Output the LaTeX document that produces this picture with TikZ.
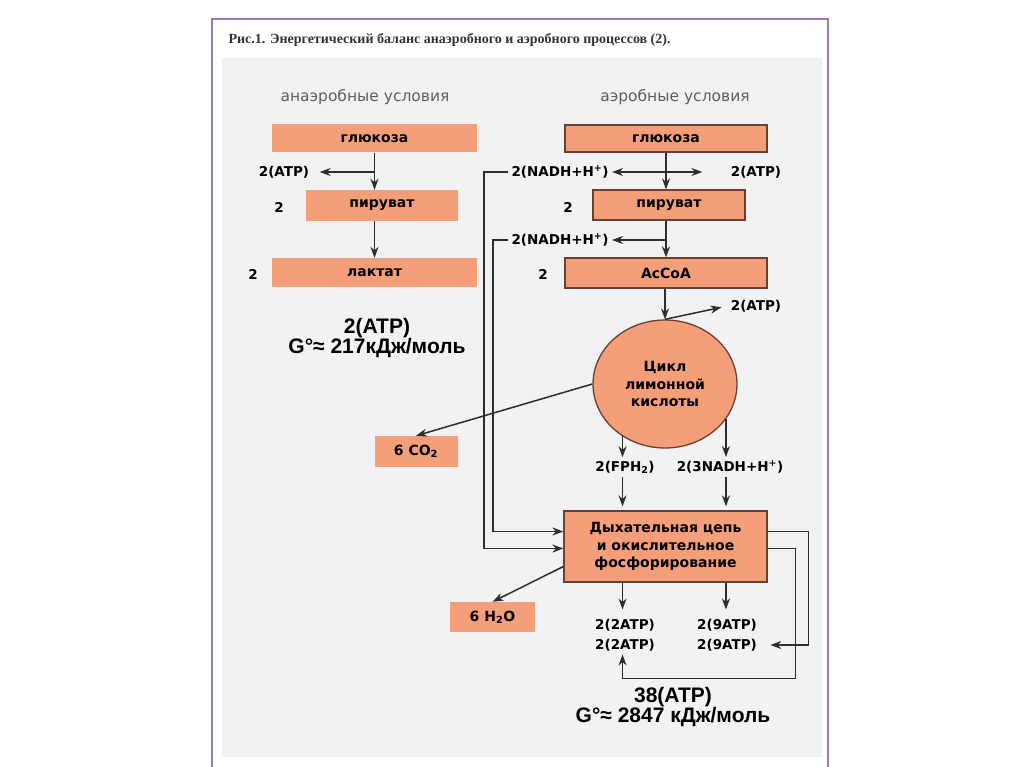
\documentclass[tikz,border=0pt]{standalone}
\usepackage{fontspec}
\setmainfont{DejaVu Sans}
\newfontfamily\capfont{Liberation Serif}
\newfontfamily\sumfont{Liberation Sans}
\usetikzlibrary{shapes.geometric,arrows.meta}
\definecolor{boxcol}{RGB}{245,158,122}
\definecolor{rimcol}{RGB}{105,65,50}
\definecolor{panelcol}{RGB}{242,242,244}
\definecolor{framecol}{RGB}{150,120,200}
\definecolor{linecol}{RGB}{45,45,45}
\definecolor{headcol}{RGB}{95,95,95}
\tikzset{every picture/.style={x=1pt,y=-1pt}}
\tikzset{pbox/.style={fill=boxcol,inner sep=0pt,align=center,font=\fontsize{14}{17.5}\selectfont\bfseries}}
\tikzset{rbox/.style={pbox,draw=rimcol,line width=1.3pt}}
\tikzset{annot/.style={font=\fontsize{13.5}{16}\selectfont\bfseries}}
\tikzset{head/.style={font=\fontsize{15.5}{18}\selectfont,text=headcol}}
\tikzset{total/.style={align=center,font=\sumfont\fontsize{21}{19}\selectfont\bfseries}}
\tikzset{edge/.style={-{Stealth[length=11pt,width=8pt]},linecol,line width=1.5pt}}

\begin{document}
\begin{tikzpicture}
\useasboundingbox (0,0) rectangle (1024,767);
\fill [white] (0,0) rectangle (1024,767);
\fill [panelcol] (222,58) rectangle (822,757);
\draw [framecol,line width=1.5pt] (212,770) -- (212,19) -- (828,19) -- (828,770);
\node [anchor=west,text=black!80,font=\capfont\fontsize{14}{14}\selectfont\bfseries] (cap) at (225,40) {Рис.1. Энергетический баланс анаэробного и аэробного процессов (2).};

% anaerobic side
\node [head] (hd1) at (365,97) {анаэробные условия};
\node [pbox,minimum width=205,minimum height=28] (gl1) at (374.5,138.5) {глюкоза};
\node [annot] (atp1) at (284,172) {2(ATP)};
\node [annot] (n1) at (279,207) {2};
\node [pbox,minimum width=152,minimum height=31] (pv1) at (382,205.5) {пируват};
\node [annot] (n2) at (253,274) {2};
\node [pbox,minimum width=205,minimum height=29] (lk1) at (374.5,272.5) {лактат};
\node [total] (sum1) at (377,338) {2(ATP)\\G°≈ 217кДж/моль};

\coordinate (j1) at (gl1.south |- atp1);
\draw [edge] (gl1.south) -- (gl1.south |- pv1.north);
\draw [edge,shorten >=7pt] (j1) -- (atp1.east);
\draw [edge] (gl1.south |- pv1.south) -- (gl1.south |- lk1.north);

% aerobic side
\node [head] (hd2) at (675,97) {аэробные условия};
\node [rbox,minimum width=202,minimum height=27] (gl2) at (666,138.5) {глюкоза};
\node [annot] (nadh1) at (560,172) {2(NADH+H\textsuperscript{+})};
\node [annot] (atp2) at (756,172) {2(ATP)};
\node [annot] (n3) at (568,207) {2};
\node [rbox,minimum width=152,minimum height=30] (pv2) at (669,205) {пируват};
\node [annot] (nadh2) at (560,240) {2(NADH+H\textsuperscript{+})};
\node [annot] (n4) at (543,274) {2};
\node [rbox,minimum width=202,minimum height=30] (acoa) at (666,273) {AcCoA};
\node [annot] (atp3) at (756,306) {2(ATP)};
\node [rbox,ellipse,minimum width=144,minimum height=128] (cyc) at (665,384) {Цикл\\лимонной\\кислоты};
\node [pbox,minimum width=83,minimum height=31] (co2) at (416,451.5) {6 CO\textsubscript{2}};
\node [annot] (fph) at (625,467) {2(FPH\textsubscript{2})};
\node [annot] (nadh3) at (730,467) {2(3NADH+H\textsuperscript{+})};
\node [rbox,minimum width=203,minimum height=71] (resp) at (665.5,546.5) {Дыхательная цепь\\и окислительное\\фосфорирование};
\node [pbox,minimum width=85,minimum height=30] (h2o) at (492.5,617) {6 H\textsubscript{2}O};
\node [annot] (a1) at (625,625) {2(2ATP)};
\node [annot] (a2) at (625,645) {2(2ATP)};
\node [annot] (a3) at (727,625) {2(9ATP)};
\node [annot] (a4) at (727,645) {2(9ATP)};
\node [total] (sum2) at (673,707) {38(ATP)\\G°≈ 2847 кДж/моль};

\coordinate (j2) at (gl2.south |- nadh1);
\coordinate (j3) at (gl2.south |- nadh2);
\draw [edge] (gl2.south) -- (gl2.south |- pv2.north);
\draw [edge] (j2) -- (nadh1.east);
\draw [edge,shorten >=25pt] (j2) -- (atp2.west);
\draw [edge] (gl2.south |- pv2.south) -- (gl2.south |- acoa.north);
\draw [edge] (j3) -- (nadh2.east);
\draw [edge] (acoa.south -| cyc.north) -- (cyc.north);
\draw [edge,shorten >=6pt] (cyc.north) -- (atp3.west);
\draw [edge] (cyc.west) -- (co2.north);
\draw [edge] (cyc.231) -- (cyc.231 |- fph.north);
\draw [edge] (cyc.330) -- (cyc.330 |- nadh3.north);
\draw [edge,shorten >=4pt] (cyc.231 |- fph.south) -- (cyc.231 |- resp.north);
\draw [edge,shorten >=4pt] (cyc.330 |- nadh3.south) -- (cyc.330 |- resp.north);

% feed into the chain
\draw [edge] (nadh1.west) -- ++(-24,0) |- ([yshift=-2pt]resp.west);
\draw [edge] (nadh2.west) -- ++(-15,0) |- ([yshift=15pt]resp.west);
\draw [edge] ([yshift=-20pt]resp.west) -- (h2o.north);

\draw [edge,shorten >=6pt] (cyc.231 |- resp.south) -- (cyc.231 |- a1.north);
\draw [edge,shorten >=6pt] (cyc.330 |- resp.south) -- (cyc.330 |- a3.north);
\draw [edge,shorten >=10pt] ([yshift=15pt]resp.east) -- ++(41,0) |- (a4.east);
\draw [edge] ([yshift=-2pt]resp.east) -- ++(28,0) -- ++(0,130) -| (cyc.231 |- a2.south);
\end{tikzpicture}
\end{document}
